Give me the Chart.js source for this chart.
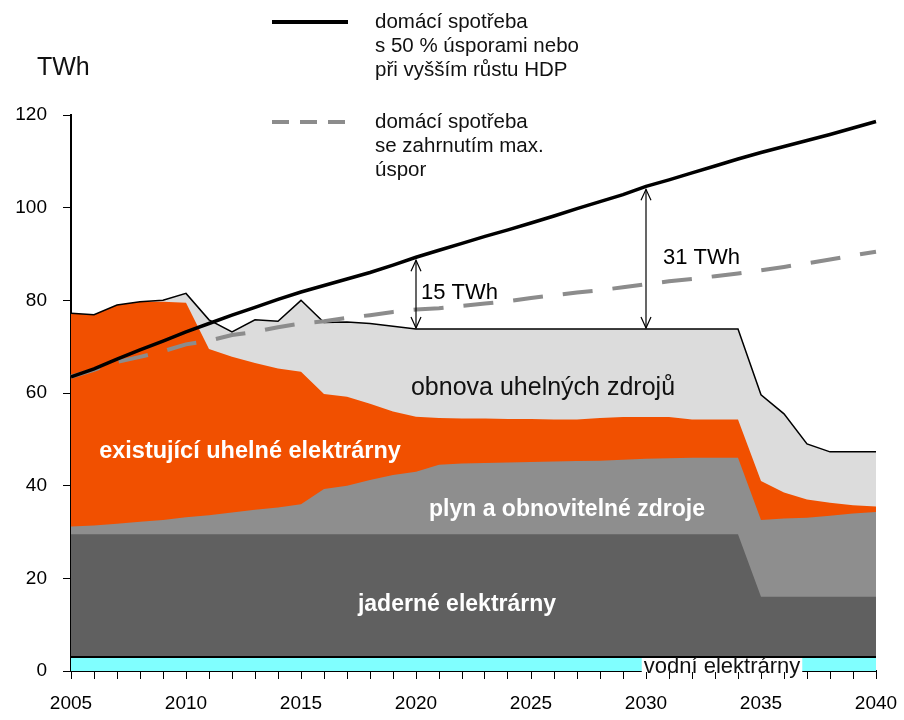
<!DOCTYPE html>
<html>
<head>
<meta charset="utf-8">
<script src="https://cdn.jsdelivr.net/npm/chart.js@4/dist/chart.umd.min.js"></script>
<style>
  body { margin: 0; background: #fff; }
  #wrap { width: 904px; height: 720px; }
</style>
</head>
<body>
<div id="wrap"><canvas id="chart" width="904" height="720"></canvas></div>
<script>
const years = [2005, 2006, 2007, 2008, 2009, 2010, 2011, 2012, 2013, 2014,
  2015, 2016, 2017, 2018, 2019, 2020, 2021, 2022, 2023, 2024,
  2025, 2026, 2027, 2028, 2029, 2030, 2031, 2032, 2033, 2034,
  2035, 2036, 2037, 2038, 2039, 2040];

// stacked supply (TWh)
const hydro = [3, 3, 3, 3, 3, 3, 3, 3, 3, 3,
  3, 3, 3, 3, 3, 3, 3, 3, 3, 3,
  3, 3, 3, 3, 3, 3, 3, 3, 3, 3,
  3, 3, 3, 3, 3, 3];
const nuclear = [26.5, 26.5, 26.5, 26.5, 26.5, 26.5, 26.5, 26.5, 26.5, 26.5,
  26.5, 26.5, 26.5, 26.5, 26.5, 26.5, 26.5, 26.5, 26.5, 26.5,
  26.5, 26.5, 26.5, 26.5, 26.5, 26.5, 26.5, 26.5, 26.5, 26.5,
  13, 13, 13, 13, 13, 13];
const gasRenew = [1.7, 1.9, 2.3, 2.7, 3.1, 3.7, 4.1, 4.7, 5.3, 5.8,
  6.5, 9.8, 10.5, 11.7, 12.8, 13.5, 15.0, 15.3, 15.4, 15.5,
  15.6, 15.7, 15.8, 15.9, 16.1, 16.3, 16.4, 16.5, 16.5, 16.5,
  16.6, 16.9, 17.1, 17.5, 18.0, 18.3];
const coalExisting = [46.0, 45.5, 47.2, 47.5, 47.1, 46.3, 35.9, 33.6, 31.7, 30.0,
  28.6, 20.5, 19.2, 16.5, 13.7, 11.9, 10.1, 9.7, 9.6, 9.4,
  9.3, 9.1, 9.0, 9.2, 9.2, 9.0, 8.9, 8.3, 8.3, 8.3,
  8.4, 5.6, 3.9, 2.8, 1.8, 1.2];
const coalRenewal = [0, 0, 0, 0, 0.3, 2.0, 6.3, 5.4, 9.3, 10.2,
  15.4, 15.4, 16.1, 17.3, 18.4, 18.9, 19.2, 19.3, 19.3, 19.4,
  19.4, 19.5, 19.5, 19.2, 19.0, 19.0, 19.0, 19.5, 19.5, 19.5,
  18.6, 17.0, 12.0, 11.0, 11.5, 11.8];

// domestic consumption lines
const demandHigh = [63.5, 65.2, 67.3, 69.3, 71.2, 73.2, 75.0, 76.8, 78.5, 80.2,
  81.8, 83.2, 84.6, 86.0, 87.6, 89.3, 90.8, 92.3, 93.8, 95.2,
  96.7, 98.2, 99.8, 101.3, 102.8, 104.6, 106.0, 107.5, 109.0, 110.5,
  111.9, 113.2, 114.5, 115.8, 117.2, 118.6];
const demandSaving = [63.5, 65.0, 66.7, 67.8, 69.0, 70.5, 71.3, 72.5, 73.2, 74.2,
  75.0, 75.5, 76.2, 76.8, 77.5, 78.0, 78.3, 78.8, 79.3, 79.8,
  80.5, 81.1, 81.7, 82.2, 82.8, 83.5, 84.1, 84.6, 85.2, 85.8,
  86.5, 87.2, 88.0, 88.8, 89.7, 90.5];

const gapYears = [2020, 2030];
const gapLabels = ['15 TWh', '31 TWh'];
const yTicks = [0, 20, 40, 60, 80, 100, 120];

const FONT = '"Liberation Sans", Arial, sans-serif';

function supplyTotal(i) {
  return hydro[i] + nuclear[i] + gasRenew[i] + coalExisting[i] + coalRenewal[i];
}

function arrowHead(ctx, x, y, dir) {
  ctx.beginPath();
  ctx.moveTo(x - 5, y + dir * 11);
  ctx.lineTo(x, y);
  ctx.lineTo(x + 5, y + dir * 11);
  ctx.stroke();
}

const overlay = {
  id: 'overlay',
  afterDatasetsDraw(chart) {
    const ctx = chart.ctx;
    const xs = chart.scales.x;
    const ys = chart.scales.y;
    ctx.save();

    // gap arrows
    ctx.strokeStyle = '#000';
    ctx.lineWidth = 1.2;
    gapYears.forEach((yr, k) => {
      const i = years.indexOf(yr);
      const x = xs.getPixelForValue(i);
      const yTop = ys.getPixelForValue(demandHigh[i]) + 3;
      const yBot = ys.getPixelForValue(supplyTotal(i)) - 1;
      ctx.beginPath();
      ctx.moveTo(x, yTop);
      ctx.lineTo(x, yBot);
      ctx.stroke();
      arrowHead(ctx, x, yTop, 1);
      arrowHead(ctx, x, yBot, -1);
      ctx.fillStyle = '#000';
      ctx.font = '22px ' + FONT;
      ctx.textAlign = 'left';
      ctx.textBaseline = 'middle';
      const ly = k === 0 ? 293 : 258;
      ctx.fillText(gapLabels[k], x + (k === 0 ? 5 : 17), ly);
    });

    // area labels
    ctx.textAlign = 'center';
    ctx.textBaseline = 'middle';
    ctx.fillStyle = '#fff';
    ctx.font = 'bold 23.5px ' + FONT;
    ctx.fillText('existující uhelné elektrárny', 250, 452);
    ctx.font = 'bold 23px ' + FONT;
    ctx.fillText('plyn a obnovitelné zdroje', 567, 510);
    ctx.font = 'bold 23px ' + FONT;
    ctx.fillText('jaderné elektrárny', 457, 605);
    ctx.fillStyle = '#111';
    ctx.font = '25px ' + FONT;
    ctx.fillText('obnova uhelných zdrojů', 543, 388);

    // hydro label with white box
    ctx.font = '22px ' + FONT;
    const vw = ctx.measureText('vodní elektrárny').width;
    ctx.fillStyle = '#fff';
    ctx.fillRect(722 - vw / 2 - 2, 658, vw + 4, 14);
    ctx.fillStyle = '#111';
    ctx.fillText('vodní elektrárny', 722, 667);

    // unit
    ctx.textAlign = 'left';
    ctx.font = '25px ' + FONT;
    ctx.fillText('TWh', 37, 68);

    // legend
    ctx.lineWidth = 4;
    ctx.strokeStyle = '#000';
    ctx.beginPath();
    ctx.moveTo(272, 22);
    ctx.lineTo(348, 22);
    ctx.stroke();
    ctx.strokeStyle = '#8c8c8c';
    ctx.setLineDash([17, 11]);
    ctx.beginPath();
    ctx.moveTo(272, 122);
    ctx.lineTo(348, 122);
    ctx.stroke();
    ctx.setLineDash([]);

    ctx.fillStyle = '#111';
    ctx.font = '20.5px ' + FONT;
    ['domácí spotřeba', 's 50 % úsporami nebo', 'při vyšším růstu HDP']
      .forEach((t, j) => ctx.fillText(t, 375, 22 + j * 24));
    ['domácí spotřeba', 'se zahrnutím max.', 'úspor']
      .forEach((t, j) => ctx.fillText(t, 375, 122 + j * 24));

    ctx.restore();
  }
};

const area = (label, data, color, border) => ({
  label: label,
  data: data,
  stack: 'supply',
  backgroundColor: color,
  borderColor: border ? '#000' : color,
  borderWidth: border ? border : 0,
  fill: 'origin',
  pointRadius: 0,
  tension: 0
});

new Chart(document.getElementById('chart'), {
  type: 'line',
  data: {
    labels: years,
    datasets: [
      {
        label: 'domácí spotřeba s 50 % úsporami nebo při vyšším růstu HDP',
        data: demandHigh,
        stack: 'high',
        borderColor: '#000',
        borderWidth: 3.5,
        fill: false,
        pointRadius: 0,
        tension: 0
      },
      {
        label: 'domácí spotřeba se zahrnutím max. úspor',
        data: demandSaving,
        stack: 'saving',
        borderColor: '#8c8c8c',
        borderWidth: 4,
        borderDash: [30, 20],
        fill: false,
        pointRadius: 0,
        tension: 0
      },
      area('vodní elektrárny', hydro, '#80ffff', 2),
      area('jaderné elektrárny', nuclear, '#606060'),
      area('plyn a obnovitelné zdroje', gasRenew, '#8e8e8e'),
      area('existující uhelné elektrárny', coalExisting, '#f15000'),
      area('obnova uhelných zdrojů', coalRenewal, '#dcdcdc', 1.5)
    ]
  },
  options: {
    responsive: false,
    animation: false,
    layout: { padding: { top: 115, right: 28, left: 0, bottom: 0 } },
    plugins: {
      legend: { display: false },
      tooltip: { enabled: false },
      filler: { drawTime: 'beforeDatasetsDraw' }
    },
    scales: {
      x: {
        offset: false,
        afterFit(scale) {
          scale.height = 49;
          scale.paddingLeft = 0;
          scale.paddingRight = 0;
        },
        grid: { drawOnChartArea: false, drawTicks: true, tickLength: 8, color: '#000', tickColor: '#000' },
        border: { display: true, color: '#000', width: 2 },
        ticks: {
          autoSkip: false,
          maxRotation: 0,
          padding: 13,
          color: '#000',
          font: { family: FONT, size: 19 },
          callback: (v, i) => (years[i] % 5 === 0 ? String(years[i]) : '')
        }
      },
      y: {
        stacked: true,
        min: 0,
        max: 120,
        afterFit(scale) { scale.width = 71; },
        afterBuildTicks(scale) { scale.ticks = yTicks.map(v => ({ value: v })); },
        grid: { drawOnChartArea: false, drawTicks: true, tickLength: 8, color: '#000', tickColor: '#000' },
        border: { display: true, color: '#000', width: 2 },
        ticks: {
          padding: 16,
          color: '#000',
          font: { family: FONT, size: 19 }
        }
      }
    }
  },
  plugins: [overlay]
});
</script>
</body>
</html>
